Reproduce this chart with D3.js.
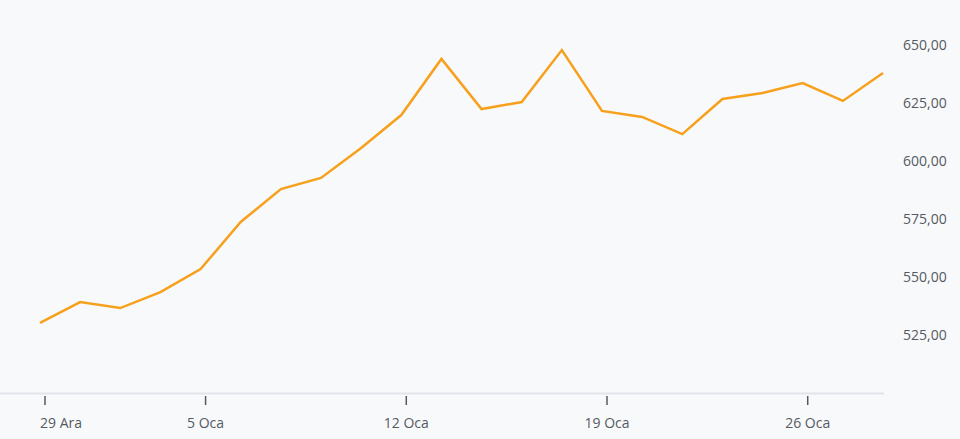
<!DOCTYPE html>
<meta charset="utf-8" />
<style>
  body { margin: 0; background: #f8f9fb; }
  .axis text { font-family: "Open Sans", sans-serif; font-size: 14px; fill: #555a62; }
</style>
<body>
<div id="chart"></div>
<script src="https://d3js.org/d3.v7.min.js"></script>
<script>
  // trading days (weekends and 1 Oca skipped)
  var dates = ["29 Ara", "30 Ara", "31 Ara", "2 Oca", "5 Oca", "6 Oca", "7 Oca", "8 Oca", "9 Oca",
    "12 Oca", "13 Oca", "14 Oca", "15 Oca", "16 Oca", "19 Oca", "20 Oca", "21 Oca", "22 Oca", "23 Oca",
    "26 Oca", "27 Oca", "28 Oca"];
  var prices = [530.2, 539.2, 536.6, 543.5, 553.4, 573.7, 587.9, 592.7, 605.6, 619.8, 644.0,
    622.4, 625.4, 647.8, 621.6, 619.0, 611.6, 626.7, 629.3, 633.6, 625.9, 637.9];
  var tickLabels = ["29 Ara", "5 Oca", "12 Oca", "19 Oca", "26 Oca"];
  var yTicks = [525, 550, 575, 600, 625, 650];

  var width = 960, height = 439;

  var svg = d3.select("#chart").append("svg")
    .attr("width", width)
    .attr("height", height);

  var x = d3.scaleLinear().domain([0, dates.length - 1]).range([40, 883]);
  var y = d3.scaleLinear().domain([525, 650]).range([335, 45]);

  // x axis line
  svg.append("line")
    .attr("x1", 0).attr("x2", 884)
    .attr("y1", 393.5).attr("y2", 393.5)
    .style("stroke", "#e1e3e8")
    .style("stroke-width", 2);

  // x ticks (slightly right of the point, as in the original)
  var xg = svg.append("g").attr("class", "axis");
  var tk = xg.selectAll("g.tick")
    .data(tickLabels)
    .enter().append("g")
    .attr("class", "tick")
    .attr("transform", function (d) {
      return "translate(" + (x(dates.indexOf(d)) + 5) + ",0)";
    });
  tk.append("line")
    .attr("y1", 396).attr("y2", 405)
    .style("stroke", "#555a62")
    .style("stroke-width", 1.5);
  // first label is pushed inside the edge
  tk.append("text")
    .attr("x", function (d, i) { return i === 0 ? -5 : 0; })
    .attr("y", 423)
    .attr("dy", "0.35em")
    .style("text-anchor", function (d, i) { return i === 0 ? "start" : "middle"; })
    .text(function (d) { return d; });

  // y axis on the right
  var yg = svg.append("g").attr("class", "axis");
  yg.selectAll("text")
    .data(yTicks)
    .enter().append("text")
    .attr("x", 903)
    .attr("y", function (d) { return y(d); })
    .attr("dy", "0.35em")
    .text(function (d) { return d3.format(".2f")(d).replace(".", ","); });

  var line = d3.line()
    .x(function (d, i) { return x(i); })
    .y(function (d) { return y(d); });

  svg.append("path")
    .datum(prices)
    .attr("fill", "none")
    .style("stroke", "#f7a01c")
    .style("stroke-width", 2.5)
    .style("stroke-linejoin", "miter")
    .attr("d", line);
</script>
</body>
